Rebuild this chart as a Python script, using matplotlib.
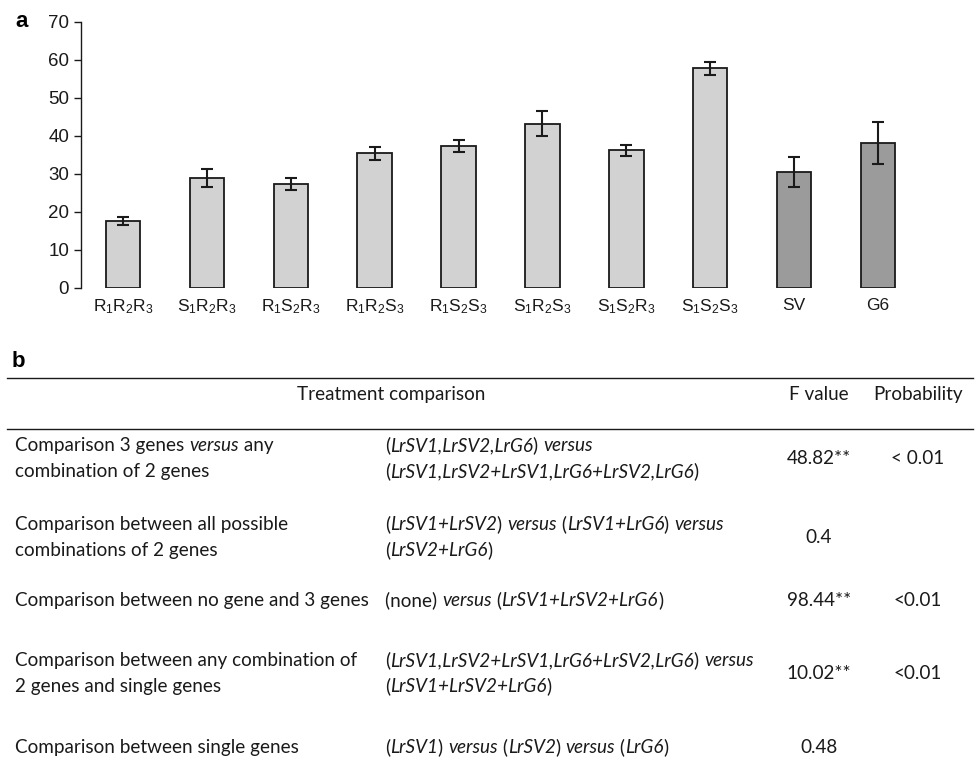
import numpy as np
import matplotlib
matplotlib.use('Agg')
import matplotlib.pyplot as plt
from matplotlib.lines import Line2D

plt.rcParams['font.family'] = 'Liberation Sans'
plt.rcParams['mathtext.fontset'] = 'custom'
plt.rcParams['mathtext.rm'] = 'Liberation Sans'
plt.rcParams['mathtext.it'] = 'Liberation Sans:italic'

# panel a data
groups = ['R$_1$R$_2$R$_3$', 'S$_1$R$_2$R$_3$', 'R$_1$S$_2$R$_3$', 'R$_1$R$_2$S$_3$',
          'R$_1$S$_2$S$_3$', 'S$_1$R$_2$S$_3$', 'S$_1$S$_2$R$_3$', 'S$_1$S$_2$S$_3$',
          'SV', 'G6']
means = [17.6, 28.9, 27.4, 35.4, 37.4, 43.2, 36.2, 57.8, 30.5, 38.2]
errs = [1.0, 2.3, 1.6, 1.8, 1.6, 3.3, 1.5, 1.8, 3.9, 5.5]
single_gene = [False] * 8 + [True] * 2

# panel b data (*...* = italic)
comp_left = [
    ["Comparison 3 genes *versus* any", "combination of 2 genes"],
    ["Comparison between all possible", "combinations of 2 genes"],
    ["Comparison between no gene and 3 genes"],
    ["Comparison between any combination of", "2 genes and single genes"],
    ["Comparison between single genes"],
]
comp_mid = [
    ["(*LrSV1,LrSV2,LrG6*) *versus*", "(*LrSV1,LrSV2+LrSV1,LrG6+LrSV2,LrG6*)"],
    ["(*LrSV1+LrSV2*) *versus* (*LrSV1+LrG6*) *versus*", "(*LrSV2+LrG6*)"],
    ["(none) *versus* (*LrSV1+LrSV2+LrG6*)"],
    ["(*LrSV1,LrSV2+LrSV1,LrG6+LrSV2,LrG6*) *versus*", "(*LrSV1+LrSV2+LrG6*)"],
    ["(*LrSV1*) *versus* (*LrSV2*) *versus* (*LrG6*)"],
]
f_values = ["48.82**", "0.4", "98.44**", "10.02**", "0.48"]
probs = ["< 0.01", "", "<0.01", "<0.01", ""]
headers = ["Treatment comparison", "F value", "Probability"]

W, H = 975, 778
fig = plt.figure(figsize=(W / 100, H / 100), dpi=100)
renderer = fig.canvas.get_renderer()
ink = '#1a1a1a'

# ---- panel a ----
ax = fig.add_axes([81 / W, 1 - 288 / H, (920 - 81) / W, (288 - 22) / H])
x = np.arange(len(groups))
colors = ['#9b9b9b' if s else '#d2d2d2' for s in single_gene]
ax.bar(x, means, width=0.41, color=colors, edgecolor=ink, linewidth=1.3, zorder=2)
ax.errorbar(x, means, yerr=errs, fmt='none', ecolor=ink, elinewidth=1.5,
            capsize=4.5, capthick=1.5, zorder=3)
ax.set_xlim(-0.5, len(groups) - 0.5)
ax.set_ylim(0, 70)
ax.set_yticks(range(0, 71, 10))
ax.set_xticks(x)
ax.set_xticklabels(groups, fontsize=12.5)
ax.tick_params(axis='y', direction='out', length=5, width=1, pad=3.5, labelsize=13.5, colors=ink)
ax.tick_params(axis='x', length=0, pad=7, colors=ink)
for side in ['top', 'right', 'bottom']:
    ax.spines[side].set_visible(False)
ax.spines['left'].set_linewidth(1)
ax.spines['left'].set_color(ink)

fig.text(15 / W, 1 - 27 / H, 'a', fontsize=16, fontweight='bold', va='baseline')

# ---- panel b ----
TFONT = 'Lato'


def text_w(s, size, style='normal'):
    t = fig.text(0, 0, 'x' + s + 'x', fontsize=size, family=TFONT, style=style)
    w = t.get_window_extent(renderer).width
    t.set_text('xx')
    w -= t.get_window_extent(renderer).width
    t.remove()
    return w


size = 10 * 353 / text_w(comp_left[2][0], 10)


def draw_line(xp, yp, line):
    for i, seg in enumerate(line.split('*')):
        if not seg:
            continue
        style = 'italic' if i % 2 else 'normal'
        fig.text(xp / W, 1 - yp / H, seg, fontsize=size, family=TFONT, style=style,
                 va='center_baseline', color=ink)
        xp += text_w(seg, size, style)


def rule(yp):
    fig.add_artist(Line2D([7 / W, 973 / W], [1 - yp / H] * 2, transform=fig.transFigure,
                          lw=1, color=ink))


fig.text(12 / W, 1 - 367 / H, 'b', fontsize=16, fontweight='bold', va='baseline')
rule(378)
rule(429)
for hx, h in zip([391, 819, 918], headers):
    fig.text(hx / W, 1 - 393 / H, h, fontsize=size, family=TFONT, ha='center',
             va='center_baseline', color=ink)

row_y = [457, 536, 599, 672, 746]
gap = 26
for yc, left, mid, fv, pv in zip(row_y, comp_left, comp_mid, f_values, probs):
    n = len(left)
    for k, line in enumerate(left):
        draw_line(15, yc + (k - (n - 1) / 2) * gap, line)
    n = len(mid)
    for k, line in enumerate(mid):
        draw_line(385, yc + (k - (n - 1) / 2) * gap, line)
    fig.text(819 / W, 1 - yc / H, fv, fontsize=size, family=TFONT, ha='center',
             va='center_baseline', color=ink)
    if pv:
        fig.text(918 / W, 1 - yc / H, pv, fontsize=size, family=TFONT, ha='center',
                 va='center_baseline', color=ink)

fig.savefig('out.png', dpi=100)
